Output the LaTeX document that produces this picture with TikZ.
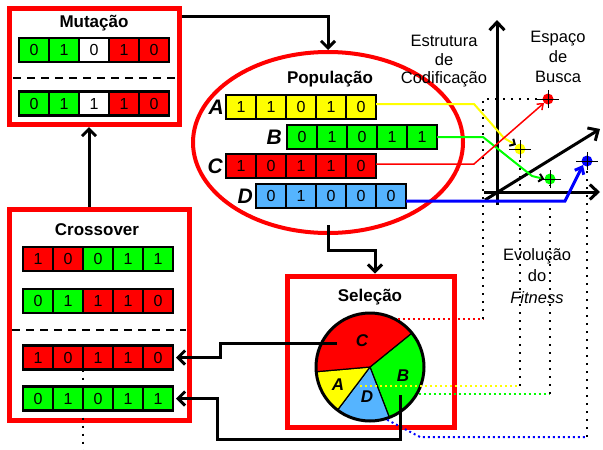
\documentclass[tikz,border=0pt]{standalone}
\usepackage{fontspec}
\setmainfont{Liberation Sans}
\usetikzlibrary{arrows.meta,positioning,shapes.geometric}

\definecolor{gared}{RGB}{255,0,0}
\definecolor{gagreen}{RGB}{0,255,0}
\definecolor{gayellow}{RGB}{255,255,0}
\definecolor{gasky}{RGB}{85,180,255}
\definecolor{gablue}{RGB}{0,0,255}

% five genes in a row: name, left end, list of bit/colour
\def\chromo(#1)(#2)#3{%
	\begin{scope}[shift={(#2)}]
		\foreach \val/\col [count=\i] in {#3}
			\node[gene, fill=\col] (#1-\i) at (\i*30-15, 0) {\val};
		\draw[line width=2.5pt] (#1-1.north west) rectangle (#1-5.south east);
	\end{scope}}

\begin{document}
\begin{tikzpicture}[x=1pt, y=-1pt,
	panel/.style={draw=gared, line width=5pt, inner sep=0pt},
	gene/.style={draw, line width=1.5pt, minimum width=30pt, minimum height=24pt, inner sep=0pt, outer sep=0pt, font=\fontsize{16}{18}\selectfont},
	heading/.style={font=\bfseries\fontsize{17}{20}\selectfont, inner sep=0pt, anchor=base},
	note/.style={font=\fontsize{16.5}{18.5}\selectfont, align=center, inner sep=0pt, anchor=north},
	tag/.style={font=\bfseries\itshape\fontsize{21}{24}\selectfont, inner sep=0pt},
	slicetag/.style={font=\bfseries\itshape\fontsize{17}{20}\selectfont, inner sep=0pt},
	flow/.style={line width=3pt, -{Straight Barb[length=7pt,width=14pt]}},
	axisline/.style={line width=3pt, -{Straight Barb[length=8pt,width=15pt]}},
	track/.style={line width=2pt, dash pattern=on 2pt off 6pt},
	trace/.style={line width=2pt, dash pattern=on 2pt off 3pt},
	spot/.style={circle, inner sep=0pt, minimum size=11pt}]
	%%%%% START %%%%%
	
	\path[use as bounding box, fill=white] (0,0) rectangle (603,450);
	
	% the four stages
	\node[panel, minimum width=169.5pt, minimum height=116.5pt] (mut) at (94.25,66.25) {};
	\node[panel, minimum width=180pt, minimum height=211pt] (cross) at (99.5,315) {};
	\node[panel, minimum width=167pt, minimum height=151.5pt] (sel) at (370.5,351.75) {};
	\node[draw=gared, line width=4pt, ellipse, minimum width=270pt, minimum height=181pt, inner sep=0pt] (pop) at (328,142.5) {};
	
	\node[heading] (tMut) at (94,27.5) {Mutação};
	\node[heading] (tCross) at (97,235) {Crossover};
	\node[heading] (tPop) at (330,83.5) {População};
	\node[heading] (tSel) at (370,301) {Seleção};
	
	\draw[line width=2pt, dash pattern=on 8pt off 6pt] (13,78) -- (176,78);
	\draw[line width=2pt, dash pattern=on 8pt off 6pt] (12,330) -- (186,330);
	
	\chromo(m1)(19,50){0/gagreen,1/gagreen,0/white,1/gared,0/gared}
	\chromo(m2)(19,103.5){0/gagreen,1/gagreen,1/white,1/gared,0/gared}
	
	\chromo(x1)(23,259){1/gared,0/gared,0/gagreen,1/gagreen,1/gagreen}
	\chromo(x2)(23,301){0/gagreen,1/gagreen,1/gared,1/gared,0/gared}
	\chromo(x3)(23,357.5){1/gared,0/gared,1/gared,1/gared,0/gared}
	\draw[track] (x3-3.south west) -- (x3-3.south west |- 0,450);
	\chromo(x4)(23,398.5){0/gagreen,1/gagreen,0/gagreen,1/gagreen,1/gagreen}
	
	\chromo(A)(226,107){1/gayellow,1/gayellow,0/gayellow,1/gayellow,0/gayellow}
	\chromo(B)(287,137){0/gagreen,1/gagreen,0/gagreen,1/gagreen,1/gagreen}
	\chromo(C)(226,166){1/gared,0/gared,1/gared,1/gared,0/gared}
	\chromo(D)(256,196){0/gasky,1/gasky,0/gasky,0/gasky,0/gasky}
	\node[tag, left=2pt of A-1] (tA) {A};
	\node[tag, left=5pt of B-1] (tB) {B};
	\node[tag, left=3pt of C-1] (tC) {C};
	\node[tag, left=3pt of D-1] (tD) {D};
	
	% roulette wheel
	\foreach \from/\to/\col in {-39/69/gagreen, 69/127/gasky, 127/175/gayellow, 175/321/gared}
		\filldraw[fill=\col, line width=1.2pt] (370,367) -- ++(\from:54) arc (\from:\to:54) -- cycle;
	\node[circle, draw, line width=3pt, minimum size=108pt, inner sep=0pt] (pie) at (370,367) {};
	\node[slicetag] (lC) at (362,341) {C};
	\node[slicetag] (lA) at (338,385) {A};
	\node[slicetag] (lD) at (367,397) {D};
	\node[slicetag] (lB) at (403,376) {B};
	\coordinate (sC) at (337,343);
	\coordinate (sB) at (400,395);
	\coordinate (fA) at (360,386);
	
	% captions on the right
	\node[note] (enc) at (444,35) {Estrutura\\de\\Codificação};
	\node[note] (space) at (558,31) {Espaço\\[1.5pt]de\\[1pt]Busca};
	\node[note, font=\fontsize{16.5}{21.5}\selectfont] (fit) at (537,248) {Evolução\\do\\\textit{Fitness}};
	
	% fitness read off the wheel
	\node[spot] (pC) at (548,99) {};
	\node[spot] (pA) at (520,149) {};
	\node[spot] (pB) at (550,179) {};
	\node[spot] (pD) at (587,161) {};
	
	\draw[trace, gared] (pie.60) -- (pie.60 -| 483,0);
	\draw[track] (pie.60 -| 483,0) |- (pC.west);
	\draw[trace, gayellow] (fA) -- (fA -| pA);
	\draw[track] (fA -| pA) -- (pA.south);
	\draw[trace, gagreen] (pie.-29) -- (pie.-29 -| pB);
	\draw[track] (pie.-29 -| pB) -- (pB.south);
	\draw[trace, gablue] (pie.-72) -- (420,437) -- (pD |- 0,437);
	\draw[track] (pD |- 0,437) -- (pD.south);
	
	% search space axes
	\draw[axisline] (497,205) -- (497,20);
	\draw[axisline] (484,192) -- (600,192);
	\draw[axisline] (485,200) -- (600,129);
	
	\draw[gayellow, line width=2pt, -{Straight Barb[color=black,length=4pt,width=8pt]}] ([yshift=3pt]A-5.east) -- ++(98,0) -- (504,138) -- (pA.north west);
	\draw[gagreen, line width=2pt, -{Straight Barb[color=black,length=4pt,width=8pt]}] (B-5.east) -- (483,137) -- (532,176) -- (pB.west);
	\draw[gared, line width=1.5pt, -{Straight Barb[length=5pt,width=8pt]}] ([yshift=2pt]C-5.east) -- ++(98,0) -- (pC.south west);
	\draw[gablue, line width=3pt, -{Straight Barb[length=6pt,width=10pt]}] ([yshift=-5pt]D-5.east) -- (565,201) -- (pD.south west);
	
	\foreach \p/\col in {pA/gayellow,pB/gagreen,pC/gared,pD/gablue}{
		\fill[\col] (\p) circle (5.5);
		\draw[line width=1pt] ([xshift=-11pt]\p.center) -- ([xshift=11pt]\p.center)
			([yshift=-9pt]\p.center) -- ([yshift=9pt]\p.center);
	}
	
	% the cycle
	\draw[flow] (mut.east |- 0,16) -| (pop.north);
	\draw[flow] (pop.center |- 0,225) |- (375,250) -- (sel.north -| 375,0);
	\draw[flow] (sC) -- (220,343) |- ([xshift=3pt]x3-5.east);
	\draw[flow] (sB) |- (217,439) |- ([xshift=3pt]x4-5.east);
	\draw[flow] (cross.north -| 89,0) -- (mut.south -| 89,0);
	
	%%%%% END %%%%%
\end{tikzpicture}
\end{document}
